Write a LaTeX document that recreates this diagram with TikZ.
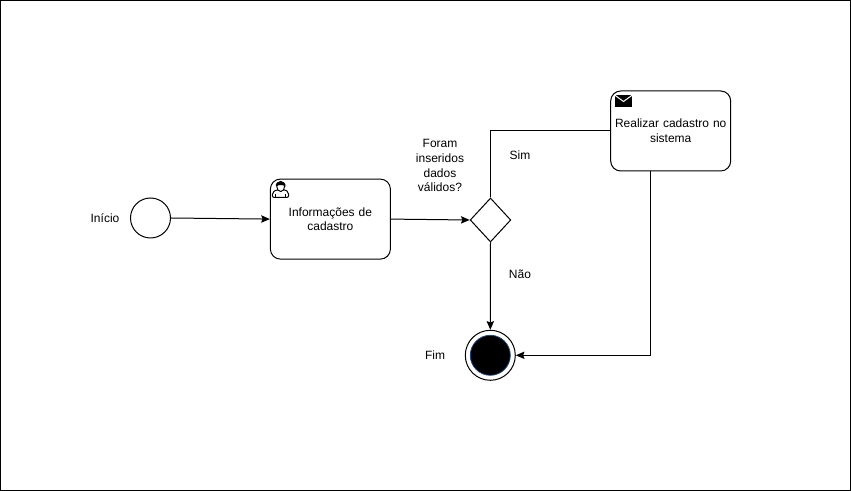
\documentclass[tikz,border=0pt]{standalone}
\usepackage{fontspec}
\setmainfont{Liberation Sans}
\usetikzlibrary{arrows.meta,shapes.geometric}
\definecolor{endrim}{RGB}{30,70,130}
\tikzset{
  px/.style={x=0.75pt,y=-0.75pt},
  lbl/.style={inner sep=0pt,align=center,text=black,font=\fontsize{9}{11}\selectfont},
  taskbox/.style={draw=black,fill=white,line width=0.75pt,rounded corners=7.5pt,minimum width=90pt,minimum height=60pt,inner sep=0pt,align=center,text width=86pt,font=\fontsize{9}{11}\selectfont},
  flow/.style={draw=black,line width=0.75pt,-{Stealth[length=6.5pt,width=5.5pt,inset=1pt]}},
  plain/.style={draw=black,line width=0.75pt},
  evt/.style={circle,draw=black,fill=white,line width=0.75pt,inner sep=0pt}
}
\begin{document}
\begin{tikzpicture}[px]
\useasboundingbox (0,0) rectangle (851,491);
\draw[black,line width=0.9pt,fill=white] (0.8,0.6) rectangle (850.4,490.2);
\node[evt,minimum size=30pt] (start) at (150.5,218) {};
\node[taskbox] (t1) at (330.4,219.1) {Informações de\\cadastro};
\node[taskbox] (t2) at (670.7,131) {Realizar cadastro no\\sistema};
\node[diamond,draw=black,fill=white,line width=0.75pt,inner sep=0pt,minimum width=30.5pt,minimum height=33pt] (gw) at (490.5,220) {};
\node[evt,minimum size=37.5pt] (endo) at (490.3,355.3) {};
\node[circle,fill=black,draw=endrim,line width=0.6pt,inner sep=0pt,minimum size=30pt] (endi) at (endo.center) {};
\node[lbl] (linicio) at (105,218) {Início};
\node[lbl] (lq) at (440,165.7) {Foram\\inseridos\\dados\\válidos?};
\node[lbl] (lsim) at (520,155) {Sim};
\node[lbl] (lnao) at (520,274) {Não};
\node[lbl] (lfim) at (435,355) {Fim};
\coordinate (t2out) at ([xshift=-15pt]t2.south);
\draw[flow] (start.east) -- (t1.west);
\draw[flow] (t1.east) -- (gw.west);
\draw[plain] (gw.north) |- (t2.west);
\draw[flow] (gw.south) -- (endo.north);
\draw[flow] (t2out) |- (endo.east);
% envelope icon
\fill[black] (615,95) rectangle (632,107);
\draw[white,line width=0.75pt] (615,95.3) -- (623.5,101.5) -- (632,95.3);
% user icon
\draw[black,line width=0.75pt,fill=white,rounded corners=1.5pt] (272.3,197.5) -- (272.3,192.5) -- (277,189.5) -- (285,189.5) -- (288.7,192.5) -- (288.7,197.5) -- cycle;
\draw[black,line width=0.6pt] (275.5,197.5) -- (275.5,194) (285.5,197.5) -- (285.5,194);
\draw[black,line width=0.75pt,fill=white] (280.7,186.5) ellipse (3.9 and 5);
\fill[black] (275.8,186.5) .. controls (275,179.5) and (286,179.5) .. (285.6,186.5) .. controls (283.5,184.5) and (278.5,184.5) .. (275.8,186.5) -- cycle;
\end{tikzpicture}
\end{document}
